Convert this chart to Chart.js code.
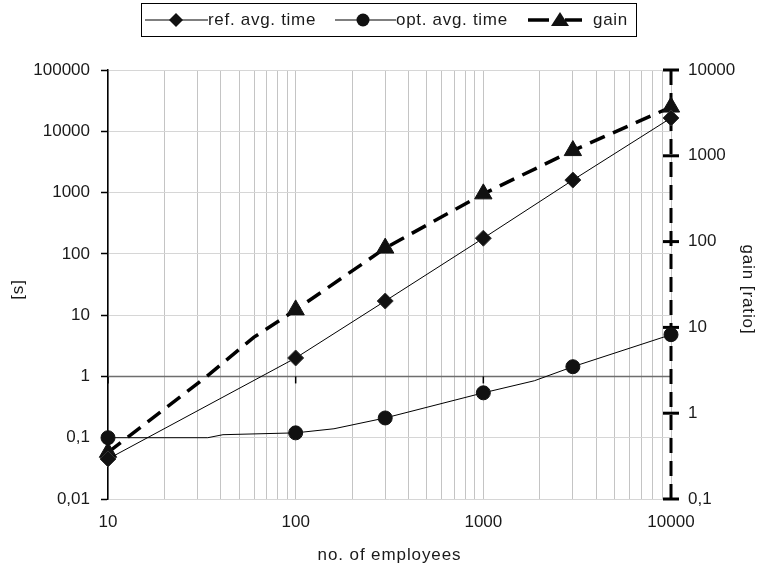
<!DOCTYPE html>
<html lang="en">

<head>
    <meta charset="UTF-8">
    <title>Average time vs. number of employees</title>
    <script src="https://cdn.jsdelivr.net/npm/chart.js@4.4.1/dist/chart.umd.min.js"></script>
    <style>
        body {
            margin: 0;
            background: #fff;
            font-family: "Liberation Sans", Arial, sans-serif;
        }

        .wrap {
            position: relative;
            width: 767px;
            height: 570px;
        }

        #legend {
            position: absolute;
            left: 141px;
            top: 3px;
            width: 496px;
            height: 34px;
            border: 1px solid #000;
            box-sizing: border-box;
            font-size: 17px;
            letter-spacing: 0.7px;
            color: #1a1a1a;
            white-space: nowrap;
        }

        #legend svg,
        #legend span {
            position: absolute;
        }

        #legend svg {
            top: 6px;
        }

        #legend span {
            top: 6px;
            line-height: 20px;
        }
    </style>
</head>

<body>
    <div class="wrap">
        <canvas id="chart" width="767" height="570"></canvas>
        <div id="legend">
            <svg width="64" height="20" style="left:3px">
                <line x1="0" y1="10" x2="63" y2="10" stroke="#000" stroke-width="1.2"/>
                <polygon points="31,3 38,10 31,17 24,10" fill="#111"/>
            </svg>
            <span style="left:66px">ref. avg. time</span>
            <svg width="62" height="20" style="left:193px">
                <line x1="0" y1="10" x2="61" y2="10" stroke="#000" stroke-width="1.2"/>
                <circle cx="28" cy="10" r="6.5" fill="#111"/>
            </svg>
            <span style="left:254px">opt. avg. time</span>
            <svg width="56" height="20" style="left:386px">
                <line x1="0" y1="10" x2="21" y2="10" stroke="#000" stroke-width="3.5"/>
                <line x1="37" y1="10" x2="54" y2="10" stroke="#000" stroke-width="3.5"/>
                <polygon points="32,2 41,16 23,16" fill="#111"/>
            </svg>
            <span style="left:451px">gain</span>
        </div>
    </div>

    <script>
        // x values and readings
        const xRef = [10, 100, 300, 1000, 3000, 10000];
        const refTime = [0.045, 2, 17, 180, 1600, 16500];

        const xOpt = [10, 34, 41, 100, 160, 300, 1000, 1870, 3000, 10000];
        const optTime = [0.1, 0.1, 0.112, 0.12, 0.14, 0.21, 0.54, 0.85, 1.44, 4.8];

        const xGain = [10, 33, 60, 100, 300, 1000, 3000, 10000];
        const gain = [0.35, 2.6, 7.7, 16, 84, 360, 1150, 3700];

        // points that carry a marker
        const markedX = [10, 100, 300, 1000, 3000, 10000];

        // axis ticks
        const xLabels = [10, 100, 1000, 10000];
        const yTicks = [0.01, 0.1, 1, 10, 100, 1000, 10000, 100000];
        const y1Ticks = [0.1, 1, 10, 100, 1000, 10000];

        const xGrid = [];
        for (let d = 10; d < 10000; d *= 10) {
            for (let m = 1; m < 10; m++) xGrid.push(d * m);
        }
        xGrid.push(10000);

        const fontFamily = '"Liberation Sans", Arial, sans-serif';
        const font = { family: fontFamily, size: 17 };
        const textColor = '#1a1a1a';

        function toPoints(xs, ys) {
            return xs.map((x, i) => ({ x: x, y: ys[i] }));
        }

        function markerSize(r) {
            return ctx => (ctx.raw && markedX.includes(ctx.raw.x)) ? r : 0;
        }

        const fmt = v => String(v).replace('.', ',');

        // x axis crossing at 1, dashed right axis with its cross ticks, axis titles
        const axisExtras = {
            id: 'axisExtras',
            beforeDatasetsDraw(chart) {
                const { ctx, chartArea, scales } = chart;
                const yOne = scales.y.getPixelForValue(1);
                ctx.save();
                ctx.strokeStyle = '#6e6e6e';
                ctx.lineWidth = 1.5;
                ctx.beginPath();
                ctx.moveTo(chartArea.left, yOne);
                ctx.lineTo(chartArea.right, yOne);
                ctx.stroke();

                ctx.strokeStyle = '#000';
                xLabels.forEach(v => {
                    const px = scales.x.getPixelForValue(v);
                    ctx.beginPath();
                    ctx.moveTo(px, yOne);
                    ctx.lineTo(px, yOne + 7);
                    ctx.stroke();
                });

                const r = chartArea.right;
                ctx.lineWidth = 3;
                ctx.setLineDash([15, 8]);
                ctx.beginPath();
                ctx.moveTo(r, chartArea.top);
                ctx.lineTo(r, chartArea.bottom);
                ctx.stroke();
                ctx.setLineDash([]);

                y1Ticks.forEach(v => {
                    const py = scales.y1.getPixelForValue(v);
                    ctx.beginPath();
                    ctx.moveTo(r - 8, py);
                    ctx.lineTo(r + 8, py);
                    ctx.stroke();
                });
                ctx.restore();
            },
            afterDraw(chart) {
                const { ctx, chartArea } = chart;
                const midY = (chartArea.top + chartArea.bottom) / 2 + 5;
                ctx.save();
                ctx.font = '17px ' + fontFamily;
                ctx.fillStyle = textColor;
                ctx.textAlign = 'center';
                ctx.textBaseline = 'middle';
                ctx.letterSpacing = '0.9px';
                ctx.fillText('no. of employees', (chartArea.left + chartArea.right) / 2, 555);

                ctx.save();
                ctx.translate(18, midY);
                ctx.rotate(-Math.PI / 2);
                ctx.fillText('[s]', 0, 0);
                ctx.restore();

                ctx.translate(748, midY);
                ctx.rotate(Math.PI / 2);
                ctx.fillText('gain [ratio]', 0, 0);
                ctx.restore();
            }
        };

        new Chart(document.getElementById('chart'), {
            type: 'line',
            data: {
                datasets: [{
                    label: 'ref. avg. time',
                    data: toPoints(xRef, refTime),
                    yAxisID: 'y',
                    borderColor: '#000',
                    borderWidth: 1,
                    pointStyle: 'rectRot',
                    pointRadius: markerSize(8),
                    pointBackgroundColor: '#111',
                    pointBorderColor: '#333',
                    pointBorderWidth: 1,
                    clip: false
                }, {
                    label: 'opt. avg. time',
                    data: toPoints(xOpt, optTime),
                    yAxisID: 'y',
                    borderColor: '#000',
                    borderWidth: 1,
                    pointStyle: 'circle',
                    pointRadius: markerSize(7),
                    pointBackgroundColor: '#111',
                    pointBorderColor: '#111',
                    pointBorderWidth: 1,
                    clip: false
                }, {
                    label: 'gain',
                    data: toPoints(xGain, gain),
                    yAxisID: 'y1',
                    borderColor: '#000',
                    borderWidth: 3.5,
                    borderDash: [16, 9],
                    pointStyle: 'triangle',
                    pointRadius: markerSize(10),
                    pointBackgroundColor: '#111',
                    pointBorderColor: '#111',
                    pointBorderWidth: 1,
                    clip: false
                }]
            },
            options: {
                responsive: false,
                animation: false,
                layout: { padding: { top: 70 } },
                elements: { line: { tension: 0 } },
                scales: {
                    x: {
                        type: 'logarithmic',
                        position: 'bottom',
                        min: 10,
                        max: 10000,
                        afterBuildTicks: s => { s.ticks = xGrid.map(v => ({ value: v })); },
                        afterFit: s => { s.height = 71; },
                        grid: { color: '#c4c4c4', lineWidth: 1, drawTicks: false },
                        border: { display: false },
                        ticks: {
                            autoSkip: false,
                            maxRotation: 0,
                            minRotation: 0,
                            padding: 13,
                            color: textColor,
                            font: font,
                            callback: v => xLabels.includes(v) ? String(v) : ''
                        }
                    },
                    y: {
                        type: 'logarithmic',
                        position: 'left',
                        min: 0.01,
                        max: 100000,
                        afterBuildTicks: s => { s.ticks = yTicks.map(v => ({ value: v })); },
                        afterFit: s => { s.width = 108; },
                        grid: { color: '#d6d6d6', lineWidth: 1, tickColor: '#000', tickLength: 7, tickWidth: 1.5 },
                        border: { color: '#000', width: 1.5 },
                        ticks: { padding: 11, color: textColor, font: font, callback: fmt }
                    },
                    y1: {
                        type: 'logarithmic',
                        position: 'right',
                        min: 0.1,
                        max: 10000,
                        afterBuildTicks: s => { s.ticks = y1Ticks.map(v => ({ value: v })); },
                        afterFit: s => { s.width = 96; },
                        grid: { drawOnChartArea: false, drawTicks: false },
                        border: { display: false },
                        ticks: { padding: 17, color: textColor, font: font, callback: fmt }
                    }
                },
                plugins: {
                    legend: { display: false },
                    tooltip: { enabled: false }
                }
            },
            plugins: [axisExtras]
        });
    </script>
</body>

</html>
